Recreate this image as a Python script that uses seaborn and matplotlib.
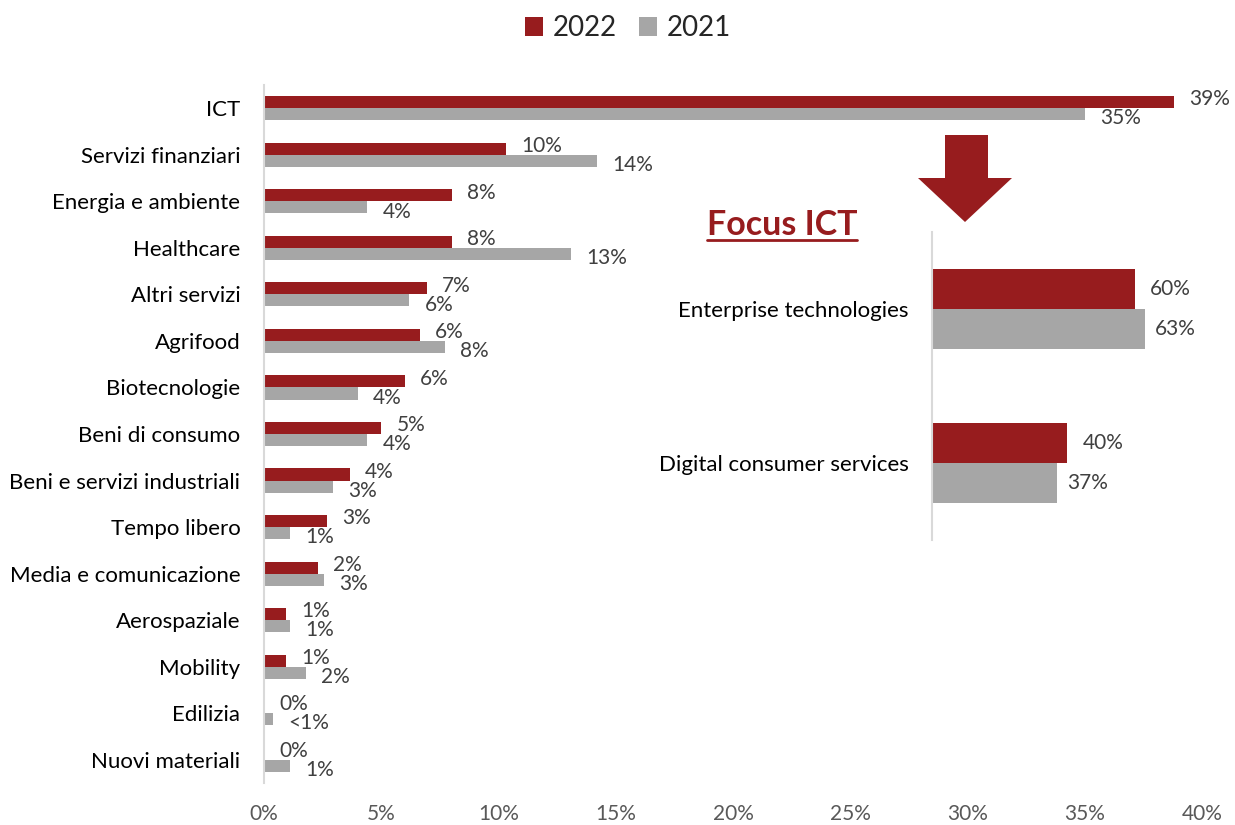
import matplotlib
matplotlib.use("Agg")
import matplotlib.pyplot as plt
import pandas as pd
import seaborn as sns
from matplotlib.patches import Patch, Polygon
from matplotlib.lines import Line2D

# dati
settori = ["ICT", "Servizi finanziari", "Energia e ambiente", "Healthcare", "Altri servizi",
           "Agrifood", "Biotecnologie", "Beni di consumo", "Beni e servizi industriali",
           "Tempo libero", "Media e comunicazione", "Aerospaziale", "Mobility", "Edilizia",
           "Nuovi materiali"]
val_2022 = [38.8, 10.3, 8.0, 8.0, 6.95, 6.65, 6.0, 5.0, 3.65, 2.7, 2.3, 0.95, 0.95, 0.0, 0.0]
val_2021 = [35.0, 14.2, 4.4, 13.1, 6.2, 7.7, 4.0, 4.4, 2.95, 1.1, 2.55, 1.1, 1.8, 0.38, 1.1]
lab_2022 = ["39%", "10%", "8%", "8%", "7%", "6%", "6%", "5%", "4%", "3%", "2%", "1%", "1%", "0%", "0%"]
lab_2021 = ["35%", "14%", "4%", "13%", "6%", "8%", "4%", "4%", "3%", "1%", "3%", "1%", "2%", "<1%", "1%"]

ict_cat = ["Enterprise technologies", "Digital consumer services"]
ict_2022 = [60, 40]
ict_2021 = [63, 37]
anni = ["2022", "2021"]
x_ticks = [0, 5, 10, 15, 20, 25, 30, 35, 40]

RED = "#971C1E"
GREY = "#A6A6A6"
palette = {"2022": RED, "2021": GREY}

sns.set_style("white")
plt.rcParams["font.family"] = ["Lato", "DejaVu Sans"]

df = pd.DataFrame({
    "settore": settori * 2,
    "valore": val_2022 + val_2021,
    "anno": ["2022"] * len(settori) + ["2021"] * len(settori),
})
df_ict = pd.DataFrame({
    "cat": ict_cat * 2,
    "valore": ict_2022 + ict_2021,
    "anno": ["2022"] * 2 + ["2021"] * 2,
})

W, H = 1235, 825
fig = plt.figure(figsize=(W / 100, H / 100), dpi=100)

# grafico principale
ax = fig.add_axes([264 / W, 1 - 783 / H, (1202 - 264) / W, (783 - 85) / H])
sns.barplot(data=df, y="settore", x="valore", hue="anno", hue_order=anni, order=settori,
            palette=palette, orient="h", width=0.52, saturation=1, legend=False,
            edgecolor="none", linewidth=0, ax=ax)
ax.set_xlim(0, 40)
ax.set_ylim(len(settori) - 0.5, -0.5)
ax.set_xticks(x_ticks)
ax.set_xticklabels([f"{t}%" for t in x_ticks])
ax.set_xlabel("")
ax.set_ylabel("")
ax.tick_params(axis="x", length=0, pad=15, labelsize=15, labelcolor="#595959")
ax.tick_params(axis="y", length=0, pad=17, labelsize=16, labelcolor="black")
for s in ["top", "right", "bottom"]:
    ax.spines[s].set_visible(False)
ax.spines["left"].set_color("#D9D9D9")
ax.spines["left"].set_linewidth(1.5)
for ann in ax.bar_label(ax.containers[0], labels=lab_2022, padding=11, fontsize=15, color="#404040"):
    ann.xyann = (11, 2)
for ann in ax.bar_label(ax.containers[1], labels=lab_2021, padding=11, fontsize=15, color="#404040"):
    ann.xyann = (11, -3)

# focus ICT
ax2 = fig.add_axes([932 / W, 1 - 540 / H, (W - 932) / W, 308 / H])
sns.barplot(data=df_ict, y="cat", x="valore", hue="anno", hue_order=anni, order=ict_cat,
            palette=palette, orient="h", width=0.52, saturation=1, legend=False,
            edgecolor="none", linewidth=0, ax=ax2)
ax2.set_xlim(0, (W - 932) / 3.38)
ax2.set_ylim(1.5, -0.5)
ax2.set_xticks([])
ax2.set_xlabel("")
ax2.set_ylabel("")
ax2.tick_params(axis="y", length=0, pad=17, labelsize=16, labelcolor="black")
for s in ["top", "right", "bottom"]:
    ax2.spines[s].set_visible(False)
ax2.spines["left"].set_color("#D9D9D9")
ax2.spines["left"].set_linewidth(1.5)
ax2.patch.set_alpha(0)
ax2.bar_label(ax2.containers[0], labels=[f"{v}%" for v in ict_2022], padding=11,
              fontsize=15, color="#404040")
ax2.bar_label(ax2.containers[1], labels=[f"{v}%" for v in ict_2021], padding=7,
              fontsize=15, color="#404040")

# freccia
arrow_px = [(945, 135), (988, 135), (988, 178), (1012, 178), (965, 222), (918, 178), (945, 178)]
fig.patches.append(Polygon([(x / W, 1 - y / H) for x, y in arrow_px], closed=True,
                           facecolor=RED, edgecolor="none", transform=fig.transFigure))

# titolo focus
t = fig.text(707 / W, 1 - 235 / H, "Focus ICT", fontsize=24.5, fontweight="bold", color=RED,
             family=["Lato", "DejaVu Sans"], va="baseline", ha="left")
fig.canvas.draw()
bb = t.get_window_extent()
x0, x1 = bb.x0 / fig.bbox.width, bb.x1 / fig.bbox.width
fig.lines.append(Line2D([x0, x1], [1 - 240 / H, 1 - 240 / H], color=RED, linewidth=2,
                        transform=fig.transFigure))

# legenda
handles = [Patch(facecolor=palette[a], edgecolor="none", label=a) for a in anni]
fig.legend(handles=handles, loc="center", bbox_to_anchor=(628 / W, 1 - 28 / H), ncol=2,
           frameon=False, fontsize=20, handlelength=0.65, handleheight=0.65,
           handletextpad=0.35, columnspacing=0.8)

fig.savefig("out.png", dpi=100)
